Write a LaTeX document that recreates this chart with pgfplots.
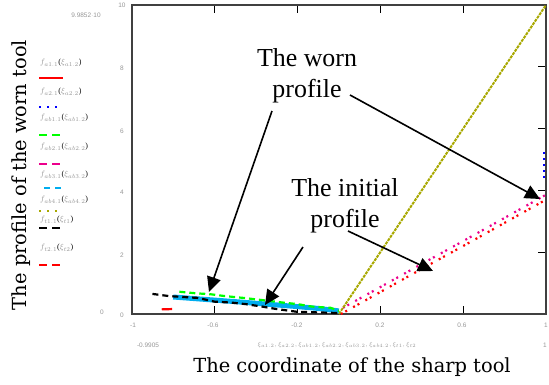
\documentclass[border=0pt]{standalone}
\usepackage{fontspec}
\setmainfont{Liberation Serif}
\newfontfamily\labelfont{DejaVu Serif}
\newfontfamily\tinyfont{Liberation Sans}
\usepackage{pgfplots}
\pgfplotsset{compat=1.18}
\usetikzlibrary{arrows.meta}
\definecolor{olivec}{RGB}{168,168,0}
\definecolor{faint}{RGB}{150,150,150}
\begin{document}
\begin{tikzpicture}
\path[use as bounding box] (0,0) rectangle (549bp,-385bp);
\begin{axis}[
  at={(131.7bp,-314bp)}, anchor=south west,
  scale only axis, width=414.3bp, height=309bp,
  xmin=-1, xmax=1, ymin=0, ymax=10,
  xtick={-0.6,-0.2,0.2,0.6}, xticklabels={},
  ytick={2,4,6,8}, yticklabels={},
  xtick pos=both, ytick pos=right,
  tick align=inside, major tick length=8bp,
  tick style={black, line width=1.2bp},
  axis line style={black!75, line width=1.6bp},
]
% initial profile (red, magenta)
\addplot[red, line width=2.2bp, dash pattern=on 2bp off 3bp on 2bp off 7bp] coordinates {(0.01,0) (0.2,0.71) (0.4,1.46) (0.6,2.2) (0.8,2.95) (1.0,3.70)};
\addplot[magenta, line width=2.2bp, dash pattern=on 2bp off 3bp on 2bp off 7bp] coordinates {(0.02,0.2) (0.2,0.87) (0.4,1.62) (0.6,2.36) (0.8,3.11) (1.0,3.86)};
% blue dotted
\addplot[blue, line width=2bp, dash pattern=on 2bp off 4bp] coordinates {(0.99,4.4) (0.99,5.3)};
% olive
\addplot[olivec, line width=2bp, dash pattern=on 3bp off 1bp] coordinates {(0,0) (0.25,2.5) (0.5,5) (0.75,7.5) (1,10)};
% cyan band
\addplot[cyan, line width=5bp] coordinates {(-0.8,0.55) (-0.7,0.5) (-0.6,0.45) (-0.5,0.40) (-0.35,0.32) (-0.2,0.24) (-0.1,0.18) (0,0.1)};
% green dashed
\addplot[green, line width=2.2bp, dash pattern=on 6bp off 4bp] coordinates {(-0.77,0.72) (-0.69,0.67) (-0.62,0.64) (-0.55,0.58) (-0.46,0.52) (-0.37,0.45) (-0.27,0.37) (-0.2,0.32) (-0.13,0.24) (-0.04,0.2) (0,0.1)};
% black dashed
\addplot[black, line width=2.2bp, dash pattern=on 6bp off 4bp] coordinates {(-0.9,0.65) (-0.82,0.58) (-0.68,0.52) (-0.6,0.40) (-0.52,0.37) (-0.45,0.32) (-0.37,0.24) (-0.3,0.16) (-0.2,0.07) (-0.09,0.05) (0,0.03)};
% red short segment
\addplot[red, line width=2.2bp] coordinates {(-0.855,0.15) (-0.805,0.16)};
\end{axis}
\begin{scope}[x=1bp,y=-1bp]
% axis titles
\node[font=\labelfont\fontsize{19.5}{22}\selectfont, rotate=90] at (21,175) {The profile of the worn tool};
\node[font=\labelfont\fontsize{19.5}{22}\selectfont] at (352,367) {The coordinate of the sharp tool};
% faint tick labels
\begin{scope}[every node/.style={font=\tinyfont\fontsize{6.5}{7}\selectfont, text=faint, inner sep=0}]
\node at (122,5) {10};
\node at (122,68) {8};
\node at (122,131) {6};
\node at (122,192) {4};
\node at (122,255) {2};
\node at (122,315) {0};
\node at (102,312) {0};
\node at (133,325) {-1};
\node at (213,325) {-0.6};
\node at (297,325) {-0.2};
\node at (380,325) {0.2};
\node at (462,325) {0.6};
\node at (546,325) {1};
\node at (86,15) {9.9852$\cdot$10};
\node at (148,345) {-0.9905};
\node at (337,345) {$\xi_{a1.2},\xi_{a2.2},\xi_{ab1.2},\xi_{ab2.2},\xi_{ab3.2},\xi_{ab4.2},\xi_{t1},\xi_{t2}$};
\node at (545,345) {1};
\end{scope}
% legend
\begin{scope}[every node/.style={font=\fontsize{8}{9}\selectfont, text=faint, inner sep=0, anchor=west}]
\node at (40,63) {$f_{a1.1}${\color{black}(}$\xi_{a1.2}${\color{black})}};
\node at (40,92) {$f_{a2.1}${\color{black}(}$\xi_{a2.2}${\color{black})}};
\node at (40,118) {$f_{ab1.1}${\color{black}(}$\xi_{ab1.2}${\color{black})}};
\node at (40,147) {$f_{ab2.1}${\color{black}(}$\xi_{ab2.2}${\color{black})}};
\node at (40,175) {$f_{ab3.1}${\color{black}(}$\xi_{ab3.2}${\color{black})}};
\node at (40,200) {$f_{ab4.1}${\color{black}(}$\xi_{ab4.2}${\color{black})}};
\node at (40,220) {$f_{t1.1}${\color{black}(}$\xi_{t1}${\color{black})}};
\node at (40,248) {$f_{t2.1}${\color{black}(}$\xi_{t2}${\color{black})}};
\end{scope}
\draw[red, line width=2bp] (39,78) -- (63,78);
\draw[blue, line width=2bp, dash pattern=on 2bp off 6bp] (39,107) -- (63,107);
\draw[green, line width=2bp, dash pattern=on 8bp off 5bp] (39,135) -- (63,135);
\draw[magenta, line width=2bp, dash pattern=on 8bp off 5bp] (39,164) -- (63,164);
\draw[cyan, line width=2bp, dash pattern=on 6bp off 5bp] (44,188) -- (63,188);
\draw[olivec, line width=2bp, dash pattern=on 2bp off 6bp] (39,211) -- (63,211);
\draw[black, line width=2bp, dash pattern=on 8bp off 5bp] (39,228) -- (63,228);
\draw[red, line width=2bp, dash pattern=on 8bp off 5bp] (39,265) -- (63,265);
% annotations
\node[font=\fontsize{26}{31}\selectfont, align=center] at (307,76) {The worn\\profile};
\node[font=\fontsize{26}{31}\selectfont, align=center] at (345,206) {The initial\\profile};
\begin{scope}[line width=1.6bp, -{Triangle[length=15bp,width=14bp]}]
\draw (272,111) -- (209,292);
\draw (350,95) -- (540,199);
\draw (303,247) -- (265,305);
\draw (348,231) -- (433,271);
\end{scope}
\end{scope}
\end{tikzpicture}
\end{document}
